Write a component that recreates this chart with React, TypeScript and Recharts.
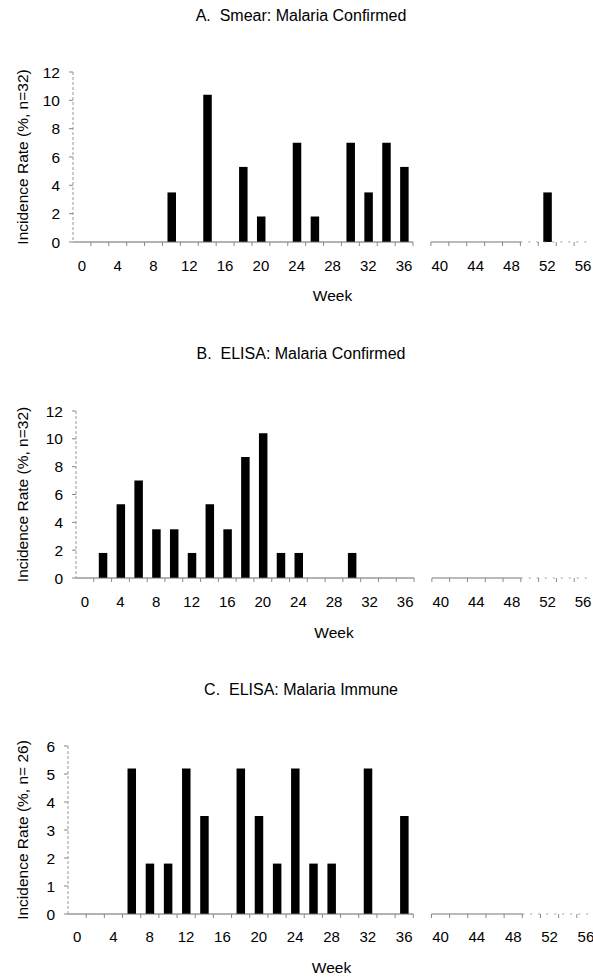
import React from 'react';
import { BarChart, Bar, XAxis, YAxis, ReferenceLine } from 'recharts';

// every second week is one bar slot
const weeks = [0, 2, 4, 6, 8, 10, 12, 14, 16, 18, 20, 22, 24, 26, 28, 30, 32, 34, 36, 38, 40, 42, 44, 46, 48, 50, 52, 54, 56];

const smearConfirmed = [0, 0, 0, 0, 0, 3.5, 0, 10.4, 0, 5.3, 1.8, 0, 7.0, 1.8, 0, 7.0, 3.5, 7.0, 5.3, 0, 0, 0, 0, 0, 0, 0, 3.5, 0, 0];
const elisaConfirmed = [0, 1.8, 5.3, 7.0, 3.5, 3.5, 1.8, 5.3, 3.5, 8.7, 10.4, 1.8, 1.8, 0, 0, 1.8, 0, 0, 0, 0, 0, 0, 0, 0, 0, 0, 0, 0, 0];
const elisaImmune = [0, 0, 0, 5.2, 1.8, 1.8, 5.2, 3.5, 0, 5.2, 3.5, 1.8, 5.2, 1.8, 1.8, 0, 5.2, 0, 3.5, 0, 0, 0, 0, 0, 0, 0, 0, 0, 0];

const weekLabels = [0, 4, 8, 12, 16, 20, 24, 28, 32, 36, 40, 44, 48, 52, 56];
const minorTicks = [1, 3, 5, 7, 9, 11, 13, 15, 17, 19, 21, 23, 25, 27, 29, 31, 33, 35, 37, 39, 41, 43, 45, 47, 49, 51, 53, 55];
const rateTicks12 = [0, 2, 4, 6, 8, 10, 12];
const rateTicks6 = [0, 1, 2, 3, 4, 5, 6];

const FONT = '"Liberation Sans", Arial, sans-serif';
const CHART_W = 600;

interface PanelProps {
  title: string;
  yLabel: string;
  values: number[];
  yMax: number;
  yTicks: number[];
  titleY: number;
  plotTop: number;
  plotBottom: number;
  plotLeft: number;
  plotRight: number;
  labelGap: number;
  weekGap: number;
}

function Panel(p: PanelProps) {
  const data = weeks.map((w, i) => ({ week: w, value: p.values[i] }));
  const plotH = p.plotBottom - p.plotTop;
  const height = 10 + plotH + 70;

  const renderTick = (props: any) => {
    const { x, y, payload } = props;
    const v = payload.value;
    if (v % 4 === 0) {
      return (
        <text x={x} y={y + p.labelGap} dy="0.36em" textAnchor="middle" fontSize={15} fill="#000" fontFamily={FONT}>
          {v}
        </text>
      );
    }
    return <line x1={x} y1={y} x2={x} y2={y + 4} stroke="#888" />;
  };

  return (
    <>
      <div
        style={{
          position: 'absolute',
          left: 0,
          width: 602,
          top: p.titleY - 10,
          lineHeight: '20px',
          textAlign: 'center',
          fontFamily: FONT,
          fontSize: 16,
          color: '#000',
          whiteSpace: 'pre',
        }}
      >
        {p.title}
      </div>
      <div style={{ position: 'absolute', left: 0, top: p.plotTop - 10 }}>
        <BarChart
          width={CHART_W}
          height={height}
          data={data}
          margin={{ top: 10, right: CHART_W - p.plotRight, bottom: 0, left: 0 }}
        >
          <XAxis
            dataKey="week"
            type="number"
            domain={[-1, 57]}
            ticks={[...weekLabels, ...minorTicks]}
            interval={0}
            tickSize={0}
            tickMargin={0}
            axisLine={false}
            tickLine={false}
            height={70}
            tick={renderTick}
            label={{
              content: ({ viewBox }: any) => (
                <text
                  x={viewBox.x + viewBox.width / 2}
                  y={viewBox.y + p.weekGap}
                  dy="0.36em"
                  textAnchor="middle"
                  fontSize={15.5}
                  fill="#000"
                  fontFamily={FONT}
                >
                  Week
                </text>
              ),
            }}
          />
          <YAxis
            width={p.plotLeft}
            domain={[0, p.yMax]}
            ticks={p.yTicks}
            interval={0}
            tickSize={4}
            tickMargin={9}
            axisLine={{ stroke: '#999', strokeDasharray: '3 2' }}
            tickLine={{ stroke: '#888' }}
            tick={{ fontSize: 15.5, fill: '#000', fontFamily: FONT }}
            label={{
              content: ({ viewBox }: any) => {
                const cy = viewBox.y + viewBox.height / 2;
                return (
                  <text
                    x={22}
                    y={cy}
                    transform={`rotate(-90, 22, ${cy})`}
                    textAnchor="middle"
                    dominantBaseline="central"
                    fontSize={15.5}
                    fill="#000"
                    fontFamily={FONT}
                  >
                    {p.yLabel}
                  </text>
                );
              },
            }}
          />
          <ReferenceLine segment={[{ x: -1, y: 0 }, { x: 37, y: 0 }]} stroke="#666" />
          <ReferenceLine segment={[{ x: 39, y: 0 }, { x: 49, y: 0 }]} stroke="#777" />
          <ReferenceLine segment={[{ x: 49, y: 0 }, { x: 57, y: 0 }]} stroke="#999" strokeDasharray="2 6" />
          <Bar dataKey="value" fill="#000" barSize={8.5} isAnimationActive={false} />
        </BarChart>
      </div>
    </>
  );
}

export default function App() {
  return (
    <div
      style={{
        position: 'absolute',
        left: 0,
        top: 0,
        width: 593,
        height: 978,
        overflow: 'hidden',
        background: '#fff',
      }}
    >
      <Panel
        title="A.  Smear: Malaria Confirmed"
        yLabel="Incidence Rate (%, n=32)"
        values={smearConfirmed}
        yMax={12}
        yTicks={rateTicks12}
        titleY={16}
        plotTop={72}
        plotBottom={242}
        plotLeft={73}
        plotRight={592}
        labelGap={24}
        weekGap={53}
      />
      <Panel
        title="B.  ELISA: Malaria Confirmed"
        yLabel="Incidence Rate (%, n=32)"
        values={elisaConfirmed}
        yMax={12}
        yTicks={rateTicks12}
        titleY={354}
        plotTop={411}
        plotBottom={578}
        plotLeft={76}
        plotRight={592}
        labelGap={24}
        weekGap={54}
      />
      <Panel
        title="C.  ELISA: Malaria Immune"
        yLabel="Incidence Rate (%, n= 26)"
        values={elisaImmune}
        yMax={6}
        yTicks={rateTicks6}
        titleY={690}
        plotTop={746}
        plotBottom={914}
        plotLeft={68}
        plotRight={595}
        labelGap={23}
        weekGap={53}
      />
    </div>
  );
}
